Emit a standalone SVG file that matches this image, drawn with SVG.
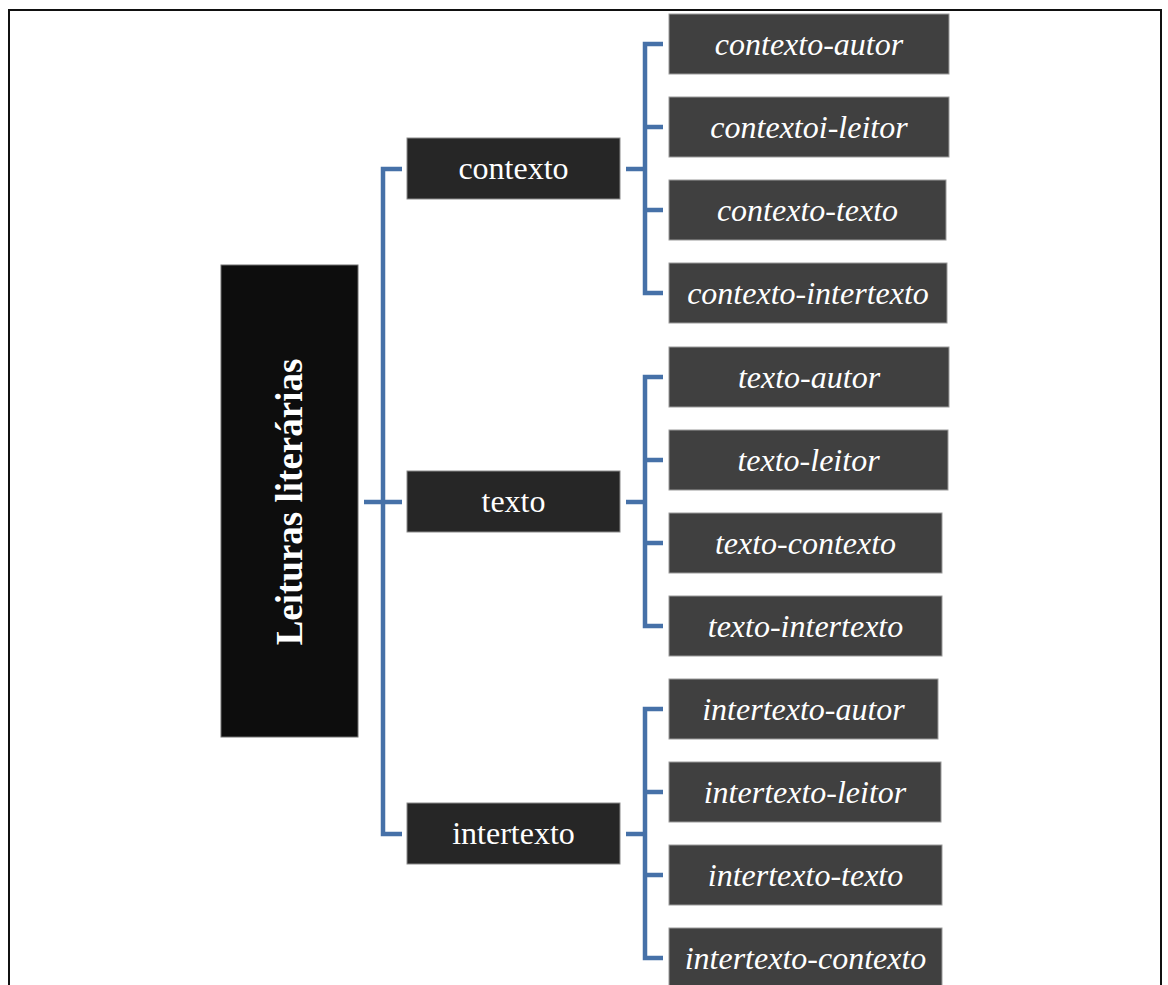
<svg xmlns="http://www.w3.org/2000/svg" width="1168" height="985" viewBox="0 0 1168 985">
<style>
.frame{fill:none;stroke:#111;stroke-width:2}
.conn{fill:none;stroke:#4671A8;stroke-width:4.5;stroke-linejoin:miter}
.root{fill:#0d0d0d;stroke:#6f6f6f;stroke-width:1}
.l1{fill:#262626;stroke:#8a8a8a;stroke-width:1}
.l2{fill:#404040;stroke:#9a9a9a;stroke-width:1}
.t1{font-family:"Liberation Serif","Times New Roman",serif;font-size:32px;fill:#fff;text-anchor:middle}
.t2{font-family:"Liberation Serif","Times New Roman",serif;font-size:32px;font-style:italic;fill:#fff;text-anchor:middle}
.t0{font-family:"Liberation Serif","Times New Roman",serif;font-size:37px;font-weight:bold;fill:#fff;text-anchor:middle}
</style>
<rect width="1168" height="985" fill="#fff"/>
<path class="frame" d="M9,985 V10 H1161 V985"/>
<g id="connectors">
<path class="conn" d="M364,502 H402"/>
<path class="conn" d="M402,169 H383 V834 H402"/>
<path class="conn" d="M626,169 H645"/>
<path class="conn" d="M663,44 H645 V293 H663 M645,127 H663 M645,210 H663"/>
<path class="conn" d="M626,502 H645"/>
<path class="conn" d="M663,377 H645 V626 H663 M645,460 H663 M645,543 H663"/>
<path class="conn" d="M626,834 H645"/>
<path class="conn" d="M663,709 H645 V958 H663 M645,792 H663 M645,875 H663"/>
</g>
<g id="root"><rect class="root" x="221" y="265" width="137" height="472"/><text class="t0" transform="translate(302,502) rotate(-90)">Leituras literárias</text></g>
<g id="contexto"><rect class="l1" x="407" y="138" width="213" height="61"/><text class="t1" x="513.5" y="179">contexto</text></g>
<g id="texto"><rect class="l1" x="407" y="471" width="213" height="61"/><text class="t1" x="513.5" y="512">texto</text></g>
<g id="intertexto"><rect class="l1" x="407" y="803" width="213" height="61"/><text class="t1" x="513.5" y="844">intertexto</text></g>
<g id="contexto-autor"><rect class="l2" x="669" y="14" width="280" height="60"/><text class="t2" x="809" y="55">contexto-autor</text></g>
<g id="contextoi-leitor"><rect class="l2" x="669" y="97" width="280" height="60"/><text class="t2" x="809" y="138">contextoi-leitor</text></g>
<g id="contexto-texto"><rect class="l2" x="669" y="180" width="277" height="60"/><text class="t2" x="807.5" y="221">contexto-texto</text></g>
<g id="contexto-intertexto"><rect class="l2" x="669" y="263" width="278" height="60"/><text class="t2" x="808" y="304">contexto-intertexto</text></g>
<g id="texto-autor"><rect class="l2" x="669" y="347" width="280" height="60"/><text class="t2" x="809" y="388">texto-autor</text></g>
<g id="texto-leitor"><rect class="l2" x="669" y="430" width="279" height="60"/><text class="t2" x="808.5" y="471">texto-leitor</text></g>
<g id="texto-contexto"><rect class="l2" x="669" y="513" width="273" height="60"/><text class="t2" x="805.5" y="554">texto-contexto</text></g>
<g id="texto-intertexto"><rect class="l2" x="669" y="596" width="273" height="60"/><text class="t2" x="805.5" y="637">texto-intertexto</text></g>
<g id="intertexto-autor"><rect class="l2" x="669" y="679" width="269" height="60"/><text class="t2" x="803.5" y="720">intertexto-autor</text></g>
<g id="intertexto-leitor"><rect class="l2" x="669" y="762" width="272" height="60"/><text class="t2" x="805" y="803">intertexto-leitor</text></g>
<g id="intertexto-texto"><rect class="l2" x="669" y="845" width="273" height="60"/><text class="t2" x="805.5" y="886">intertexto-texto</text></g>
<g id="intertexto-contexto"><rect class="l2" x="669" y="928" width="273" height="60"/><text class="t2" x="805.5" y="969">intertexto-contexto</text></g>
</svg>
